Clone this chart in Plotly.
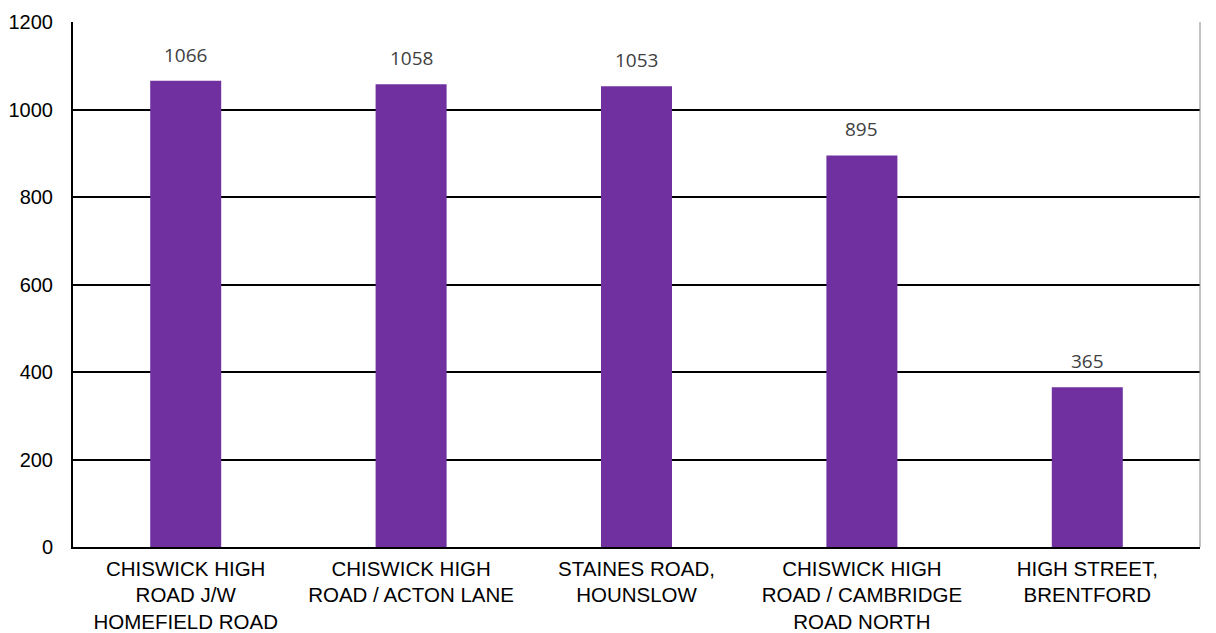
import plotly.graph_objects as go

categories = [
    "CHISWICK HIGH<br>ROAD J/W<br>HOMEFIELD ROAD",
    "CHISWICK HIGH<br>ROAD / ACTON LANE",
    "STAINES ROAD,<br>HOUNSLOW",
    "CHISWICK HIGH<br>ROAD / CAMBRIDGE<br>ROAD NORTH",
    "HIGH STREET,<br>BRENTFORD",
]
values = [1066, 1058, 1053, 895, 365]
y_ticks = [0, 200, 400, 600, 800, 1000, 1200]

fig = go.Figure()
fig.add_trace(go.Bar(
    x=categories, y=values,
    marker=dict(color="#7030A0", line=dict(width=0)),
    hoverinfo="x+y",
))

for c, v in zip(categories, values):
    fig.add_annotation(
        x=c, y=v, text=str(v), showarrow=False, yshift=26,
        font=dict(family="Open Sans, Lato, sans-serif", size=19, color="#404040"),
    )

fig.add_shape(type="line", xref="paper", yref="paper", x0=1, x1=1, y0=0, y1=1,
              line=dict(color="#888888", width=1))

fig.update_layout(
    width=1216, height=633,
    margin=dict(l=73, r=16, t=22, b=86),
    paper_bgcolor="white", plot_bgcolor="white",
    bargap=0.685,
    showlegend=False,
    font=dict(family="Liberation Sans, Arial, sans-serif", size=20, color="black"),
    xaxis=dict(
        showgrid=False, showline=True, linecolor="black", linewidth=2,
        ticks="", tickfont=dict(size=20.5, color="black"), ticklabelstandoff=2,
        automargin=False,
    ),
    yaxis=dict(
        range=[0, 1200], tickvals=y_ticks,
        showgrid=True, gridcolor="black", gridwidth=2,
        showline=True, linecolor="black", linewidth=2,
        zeroline=False, ticks="outside", ticklen=14, tickcolor="white",
        tickfont=dict(size=20, color="black"), automargin=False,
    ),
)

fig.write_html("out.html")
